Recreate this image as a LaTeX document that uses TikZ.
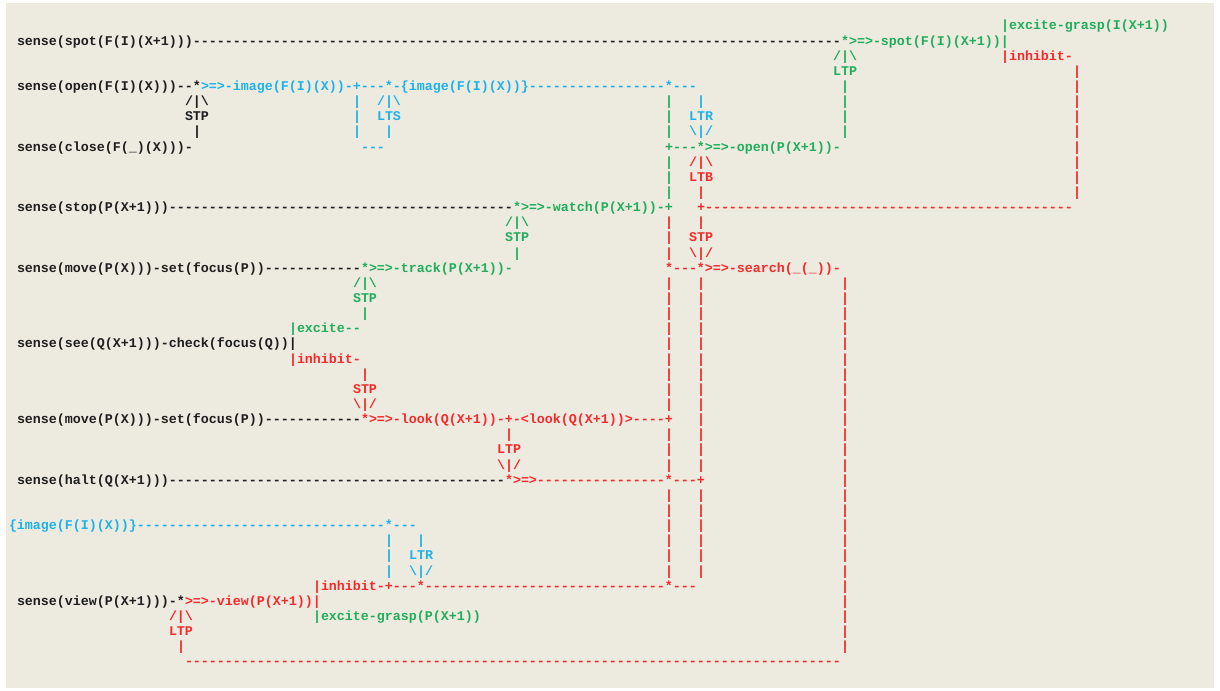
\documentclass[tikz,border=0pt]{standalone}
\usepackage{fontspec}
\newfontfamily\asciifont[Ligatures=TeXOff]{Liberation Mono}
\ExplSyntaxOn
\cs_new:Npn \dashrun #1 { \prg_replicate:nn {#1} {-} }
\ExplSyntaxOff
\definecolor{paper}{HTML}{EDEAE0}
\definecolor{inkc}{HTML}{1E1E1E}
\definecolor{grnc}{HTML}{22AD5C}
\definecolor{bluc}{HTML}{1FB2E8}
\definecolor{redc}{HTML}{F52A2A}
\tikzset{
  glyph/.style={anchor=base west, inner sep=0pt, outer sep=0pt,
    text height=9bp, text depth=2bp,
    font=\asciifont\bfseries\fontsize{13.33bp}{15bp}\selectfont},
  ink/.style={glyph, text=inkc},
  grn/.style={glyph, text=grnc},
  blu/.style={glyph, text=bluc},
  rd/.style={glyph, text=redc}
}
% one run of characters: name, column, style, row, text
\newcommand\run[5]{\node[#3] (#1) at ({17+8*(#2)},{30+15.14*(#4)}) {#5};}
% a vertical stack of bars: name, column, style, list of rows
\newcommand\vrun[4]{\foreach \r in {#4}{\node[#3] (#1-\r) at ({17+8*(#2)},{30+15.14*\r}) {|};}}
\newcommand\bs{\textbackslash}
\begin{document}
\begin{tikzpicture}[x=1bp,y=-1bp]
\useasboundingbox (0,0) rectangle (1220,691);
\fill[white] (0,0) rectangle (1220,691);
\fill[paper] (6,3) rectangle (1214,688);

% spot / open / close block
\run{r0g}{123}{grn}{0}{|excite-grasp(I(X+1))}
\run{r1k}{0}{ink}{1}{sense(spot(F(I)(X+1)))\dashrun{81}}
\run{r1g}{103}{grn}{1}{*>=>-spot(F(I)(X+1))|}
\run{r2g}{102}{grn}{2}{/|\bs}
\run{r2r}{123}{rd}{2}{|inhibit-}
\run{r3g}{102}{grn}{3}{LTP}
\vrun{v132}{132}{rd}{3,...,11}
\run{r4k}{0}{ink}{4}{sense(open(F(I)(X)))--*}
\run{r4b}{23}{blu}{4}{>=>-image(F(I)(X))-+---*-\{image(F(I)(X))\}\dashrun{17}*---}
\vrun{v103a}{103}{grn}{4,...,7}
\run{r5k}{21}{ink}{5}{/|\bs}
\vrun{v42}{42}{blu}{5,...,7}
\run{r5b}{45}{blu}{5}{/|\bs}
\vrun{v81a}{81}{grn}{5,6,7,9,10,11}
\run{r5c}{85}{blu}{5}{|}
\run{r6k}{21}{ink}{6}{STP}
\run{r6b}{45}{blu}{6}{LTS}
\run{r6c}{84}{blu}{6}{LTR}
\run{r7k}{22}{ink}{7}{|}
\run{r7b}{46}{blu}{7}{|}
\run{r7c}{84}{blu}{7}{\bs|/}
\run{r8k}{0}{ink}{8}{sense(close(F(\_)(X)))-}
\run{r8b}{43}{blu}{8}{---}
\run{r8g}{81}{grn}{8}{+---*>=>-open(P(X+1))-}
\run{r9r}{84}{rd}{9}{/|\bs}
\run{r10r}{84}{rd}{10}{LTB}
\run{r11r}{85}{rd}{11}{|}

% stop / move block
\run{r12k}{0}{ink}{12}{sense(stop(P(X+1)))\dashrun{43}}
\run{r12g}{62}{grn}{12}{*>=>-watch(P(X+1))-+}
\run{r12r}{85}{rd}{12}{+\dashrun{46}}
\run{r13g}{61}{grn}{13}{/|\bs}
\run{r13r}{85}{rd}{13}{|}
\run{r14g}{61}{grn}{14}{STP}
\run{r14r}{84}{rd}{14}{STP}
\run{r15g}{62}{grn}{15}{|}
\run{r15r}{84}{rd}{15}{\bs|/}
\vrun{v81b}{81}{rd}{13,14,15,17,18,19,20,21,22,23,24,25,27,28,29,31,32,33,34,35,36}
\vrun{v85}{85}{rd}{17,18,19,20,21,22,23,24,25,26,27,28,29,31,32,33,34,35,36}
\vrun{v103b}{103}{rd}{17,...,41}
\run{r16k}{0}{ink}{16}{sense(move(P(X)))-set(focus(P))\dashrun{12}}
\run{r16g}{43}{grn}{16}{*>=>-track(P(X+1))-}
\run{r16r}{81}{rd}{16}{*---*>=>-search(\_(\_))-}
\run{r17g}{42}{grn}{17}{/|\bs}
\run{r18g}{42}{grn}{18}{STP}
\run{r19g}{43}{grn}{19}{|}
\run{r20g}{34}{grn}{20}{|excite--}
\run{r21k}{0}{ink}{21}{sense(see(Q(X+1)))-check(focus(Q))|}
\run{r22r}{34}{rd}{22}{|inhibit-}
\run{r23r}{43}{rd}{23}{|}
\run{r24r}{42}{rd}{24}{STP}
\run{r25r}{42}{rd}{25}{\bs|/}
\run{r26k}{0}{ink}{26}{sense(move(P(X)))-set(focus(P))\dashrun{12}}
\run{r26r}{43}{rd}{26}{*>=>-look(Q(X+1))-+-<look(Q(X+1))>----+}
\run{r27r}{61}{rd}{27}{|}
\run{r28r}{60}{rd}{28}{LTP}
\run{r29r}{60}{rd}{29}{\bs|/}
\run{r30k}{0}{ink}{30}{sense(halt(Q(X+1)))\dashrun{42}}
\run{r30r}{61}{rd}{30}{*>=>\dashrun{16}*---+}

% image / view block
\run{r33b}{-1}{blu}{33}{\{image(F(I)(X))\}\dashrun{31}*---}
\vrun{v46}{46}{blu}{34,35,36}
\run{r34b}{50}{blu}{34}{|}
\run{r35b}{49}{blu}{35}{LTR}
\run{r36b}{49}{blu}{36}{\bs|/}
\run{r37r}{37}{rd}{37}{|inhibit-+---*\dashrun{30}*---}
\run{r38k}{0}{ink}{38}{sense(view(P(X+1)))-*}
\run{r38r}{21}{rd}{38}{>=>-view(P(X+1))|}
\run{r39r}{19}{rd}{39}{/|\bs}
\run{r39g}{37}{grn}{39}{|excite-grasp(P(X+1))}
\run{r40r}{19}{rd}{40}{LTP}
\run{r41r}{20}{rd}{41}{|}
\run{r42r}{21}{rd}{42}{\dashrun{82}}
\end{tikzpicture}
\end{document}
